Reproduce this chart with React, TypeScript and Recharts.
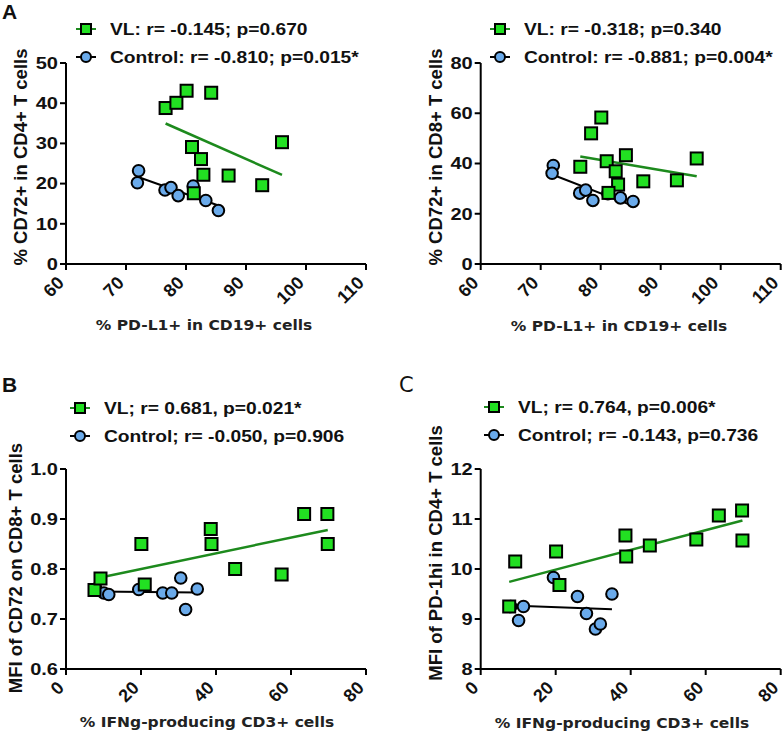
import React from "react";
import { ScatterChart, Scatter, XAxis, YAxis, Legend } from "recharts";

// Panel A (PD-L1+ in CD19+ vs CD72+ in CD4+/CD8+ T cells)
const VL_PDL1 = [76.6, 78.4, 80.1, 84.2, 81.0, 82.5, 82.9, 87.1, 96.0, 92.7, 81.3];
const VL_CD72_CD4 = [38.8, 40.1, 43.1, 42.6, 29.1, 26.1, 22.2, 22.0, 30.3, 19.6, 17.6];
const VL_CD72_CD8 = [38.7, 52.0, 58.3, 43.3, 40.9, 36.9, 31.6, 32.9, 42.0, 33.3, 28.3];
const CTRL_PDL1 = [72.1, 71.9, 76.5, 77.5, 78.7, 81.2, 83.3, 85.4];
const CTRL_CD72_CD4 = [23.2, 20.2, 18.4, 19.0, 17.0, 19.4, 15.8, 13.3];
const CTRL_CD72_CD8 = [39.2, 36.1, 28.2, 29.4, 25.3, 28.0, 26.3, 24.9];

// Panels B and C (IFNg-producing CD3+ cells vs MFI)
const VL_IFNG = [7.6, 9.2, 20.1, 21.0, 38.6, 38.8, 45.1, 57.5, 63.5, 69.7, 69.8];
const VL_MFI_CD72 = [0.758, 0.781, 0.85, 0.769, 0.88, 0.85, 0.8, 0.789, 0.91, 0.91, 0.85];
const VL_MFI_PD1 = [9.25, 10.15, 10.35, 9.68, 10.67, 10.25, 10.47, 10.59, 11.07, 11.17, 10.57];
const CTRL_IFNG = [8.0, 10.1, 11.4, 19.4, 25.8, 28.2, 30.6, 31.9, 35.0];
const CTRL_MFI_CD72 = [0.76, 0.752, 0.749, 0.759, 0.752, 0.752, 0.782, 0.719, 0.76];
const CTRL_MFI_PD1 = [9.25, 8.97, 9.25, 9.83, 9.45, 9.11, 8.8, 8.9, 9.5];

const PDL1_TICKS = [60, 70, 80, 90, 100, 110];
const IFNG_TICKS = [0, 20, 40, 60, 80];
const CD4_TICKS = [0, 10, 20, 30, 40, 50];
const CD8_TICKS = [0, 20, 40, 60, 80];
const MFI_CD72_TICKS = [0.6, 0.7, 0.8, 0.9, 1.0];
const MFI_PD1_TICKS = [8, 9, 10, 11, 12];

const GREEN = "#22e022";
const GREEN_LINE = "#1d8a1d";
const BLUE = "#6aaaea";
const BOLD = "'Liberation Sans', Arial, sans-serif";
const PLAIN = "'DejaVu Sans', Verdana, sans-serif";

const zip = (xs: number[], ys: number[]) => xs.map((x, i) => ({ x, y: ys[i] }));

// least squares line between min and max x of the group
function fitLine(xs: number[], ys: number[]) {
    const n = xs.length;
    const mx = xs.reduce((s, v) => s + v, 0) / n;
    const my = ys.reduce((s, v) => s + v, 0) / n;
    let sxy = 0;
    let sxx = 0;
    xs.forEach((x, i) => {
        sxy += (x - mx) * (ys[i] - my);
        sxx += (x - mx) * (x - mx);
    });
    const b = sxy / sxx;
    const x1 = Math.min(...xs);
    const x2 = Math.max(...xs);
    return [
        { x: x1, y: my + b * (x1 - mx) },
        { x: x2, y: my + b * (x2 - mx) },
    ];
}

const SquareDot = (props: any) => {
    const { cx, cy } = props;
    if (cx == null || cy == null) return <g />;
    return <rect x={cx - 6} y={cy - 6} width={12} height={12} fill={GREEN} stroke="#000" strokeWidth={2} />;
};

const CircleDot = (props: any) => {
    const { cx, cy } = props;
    if (cx == null || cy == null) return <g />;
    return <circle cx={cx} cy={cy} r={5.8} fill={BLUE} stroke="#000" strokeWidth={2} />;
};

const NoDot = () => <g />;

const YTick = (props: any) => {
    const { x, y, payload, decimals } = props;
    return (
        <text
            transform={`translate(${x},${y}) scale(1.25,1)`}
            textAnchor="end"
            dy="0.36em"
            fontSize={16}
            fontWeight="bold"
            fontFamily={BOLD}
            fill="#111"
        >
            {decimals ? Number(payload.value).toFixed(decimals) : payload.value}
        </text>
    );
};

const XTick = (props: any) => {
    const { x, y, payload } = props;
    return (
        <text
            transform={`translate(${x - 1},${y + 12}) rotate(-45)`}
            textAnchor="end"
            fontSize={18}
            fontWeight="bold"
            fontFamily={BOLD}
            fill="#111"
        >
            {payload.value}
        </text>
    );
};

function LegendBox({ items }: { items: string[] }) {
    return (
        <div style={{ fontFamily: BOLD, fontWeight: "bold", fontSize: 16.3, color: "#111" }}>
            {items.map((label, i) => (
                <div key={label} style={{ display: "flex", alignItems: "center", height: 28 }}>
                    <svg width={22} height={16} style={{ flexShrink: 0 }}>
                        <line x1={1} y1={8} x2={21} y2={8} stroke={i === 0 ? GREEN_LINE : "#000"} strokeWidth={2} />
                        {i === 0 ? (
                            <rect x={6} y={3} width={10} height={10} fill={GREEN} stroke="#000" strokeWidth={2} />
                        ) : (
                            <circle cx={11} cy={8} r={5} fill={BLUE} stroke="#000" strokeWidth={2} />
                        )}
                    </svg>
                    <span
                        style={{
                            marginLeft: 13,
                            whiteSpace: "nowrap",
                            display: "inline-block",
                            transform: "scaleX(1.18)",
                            transformOrigin: "left center",
                        }}
                    >
                        {label}
                    </span>
                </div>
            ))}
        </div>
    );
}

interface PanelProps {
    left: number;
    top: number;
    width: number;
    height: number;
    margin: { top: number; right: number; bottom: number; left: number };
    xDomain: [number, number];
    xTicks: number[];
    yDomain: [number, number];
    yTicks: number[];
    yDecimals?: number;
    vl: { x: number; y: number }[];
    ctrl: { x: number; y: number }[];
    vlFit: { x: number; y: number }[];
    ctrlFit: { x: number; y: number }[];
    legend: string[];
    legendPos: { left: number; top: number };
    letter: string;
    letterPos: { x: number; y: number; font: string; weight: string };
    yTitle: string;
    yTitlePos: { x: number; y: number };
    xTitle: string;
    xTitlePos: { x: number; y: number };
}

function Panel(p: PanelProps) {
    return (
        <div style={{ position: "absolute", left: p.left, top: p.top, width: p.width, height: p.height }}>
            <ScatterChart width={p.width} height={p.height} margin={p.margin}>
                <XAxis
                    type="number"
                    dataKey="x"
                    domain={p.xDomain}
                    ticks={p.xTicks}
                    interval={0}
                    allowDataOverflow
                    height={40}
                    axisLine={{ stroke: "#000", strokeWidth: 2 }}
                    tickLine={{ stroke: "#000", strokeWidth: 2 }}
                    tickSize={6}
                    tick={<XTick />}
                    label={{
                        content: () => (
                            <text
                                transform={`translate(${p.xTitlePos.x},${p.xTitlePos.y}) scale(1.15,1)`}
                                textAnchor="middle"
                                fontSize={13.5}
                                fontWeight="bold"
                                fontFamily={PLAIN}
                                fill="#222"
                            >
                                {p.xTitle}
                            </text>
                        ),
                    }}
                />
                <YAxis
                    type="number"
                    dataKey="y"
                    domain={p.yDomain}
                    ticks={p.yTicks}
                    interval={0}
                    allowDataOverflow
                    width={58}
                    axisLine={{ stroke: "#000", strokeWidth: 2 }}
                    tickLine={{ stroke: "#000", strokeWidth: 2 }}
                    tickSize={6}
                    tick={<YTick decimals={p.yDecimals} />}
                    label={{
                        content: () => (
                            <text
                                transform={`translate(${p.yTitlePos.x},${p.yTitlePos.y}) rotate(-90)`}
                                textAnchor="middle"
                                fontSize={18.5}
                                fontWeight="bold"
                                fontFamily={BOLD}
                                fill="#111"
                            >
                                {p.yTitle}
                            </text>
                        ),
                    }}
                />
                <Legend
                    layout="vertical"
                    align="center"
                    verticalAlign="middle"
                    wrapperStyle={{ left: p.legendPos.left, top: p.legendPos.top, width: "auto", height: "auto" }}
                    content={() => <LegendBox items={p.legend} />}
                />
                <Scatter data={p.ctrlFit} line={{ stroke: "#000", strokeWidth: 2 }} shape={NoDot} legendType="none" isAnimationActive={false} />
                <Scatter data={p.vlFit} line={{ stroke: GREEN_LINE, strokeWidth: 2.5 }} shape={NoDot} legendType="none" isAnimationActive={false} />
                <Scatter name={p.legend[1]} data={p.ctrl} shape={CircleDot} isAnimationActive={false} />
                <Scatter name={p.legend[0]} data={p.vl} shape={SquareDot} isAnimationActive={false} />
            </ScatterChart>
            {p.letter && (
                <svg style={{ position: "absolute", left: 0, top: 0 }} width={40} height={30}>
                    <text
                        x={p.letterPos.x}
                        y={p.letterPos.y}
                        fontFamily={p.letterPos.font}
                        fontWeight={p.letterPos.weight}
                        fontSize={21}
                        fill="#111"
                    >
                        {p.letter}
                    </text>
                </svg>
            )}
        </div>
    );
}

export default function App() {
    const topMargin = { top: 63, bottom: 66 };
    const botMargin = { top: 99, bottom: 26 };
    return (
        <div style={{ position: "absolute", left: 0, top: 0, width: 783, height: 735, background: "#fff", overflow: "hidden" }}>
            <Panel
                left={0}
                top={0}
                width={392}
                height={370}
                margin={{ ...topMargin, left: 8, right: 26 }}
                xDomain={[60, 110]}
                xTicks={PDL1_TICKS}
                yDomain={[0, 50]}
                yTicks={CD4_TICKS}
                vl={zip(VL_PDL1, VL_CD72_CD4)}
                ctrl={zip(CTRL_PDL1, CTRL_CD72_CD4)}
                vlFit={fitLine(VL_PDL1, VL_CD72_CD4)}
                ctrlFit={fitLine(CTRL_PDL1, CTRL_CD72_CD4)}
                legend={["VL: r= -0.145; p=0.670", "Control: r= -0.810; p=0.015*"]}
                legendPos={{ left: 75, top: 15 }}
                letter="A"
                letterPos={{ x: 2, y: 19, font: BOLD, weight: "bold" }}
                yTitle="% CD72+ in CD4+ T cells"
                yTitlePos={{ x: 27, y: 157 }}
                xTitle="% PD-L1+ in CD19+ cells"
                xTitlePos={{ x: 204, y: 330 }}
            />
            <Panel
                left={392}
                top={0}
                width={391}
                height={370}
                margin={{ ...topMargin, left: 30.7, right: 2.3 }}
                xDomain={[60, 110]}
                xTicks={PDL1_TICKS}
                yDomain={[0, 80]}
                yTicks={CD8_TICKS}
                vl={zip(VL_PDL1, VL_CD72_CD8)}
                ctrl={zip(CTRL_PDL1, CTRL_CD72_CD8)}
                vlFit={fitLine(VL_PDL1, VL_CD72_CD8)}
                ctrlFit={fitLine(CTRL_PDL1, CTRL_CD72_CD8)}
                legend={["VL: r= -0.318; p=0.340", "Control: r= -0.881; p=0.004*"]}
                legendPos={{ left: 97, top: 15 }}
                letter=""
                letterPos={{ x: 0, y: 0, font: BOLD, weight: "bold" }}
                yTitle="% CD72+ in CD8+ T cells"
                yTitlePos={{ x: 50, y: 157 }}
                xTitle="% PD-L1+ in CD19+ cells"
                xTitlePos={{ x: 227, y: 331 }}
            />
            <Panel
                left={0}
                top={370}
                width={392}
                height={365}
                margin={{ ...botMargin, left: 8, right: 26 }}
                xDomain={[0, 80]}
                xTicks={IFNG_TICKS}
                yDomain={[0.6, 1.0]}
                yTicks={MFI_CD72_TICKS}
                yDecimals={1}
                vl={zip(VL_IFNG, VL_MFI_CD72)}
                ctrl={zip(CTRL_IFNG, CTRL_MFI_CD72)}
                vlFit={fitLine(VL_IFNG, VL_MFI_CD72)}
                ctrlFit={fitLine(CTRL_IFNG, CTRL_MFI_CD72)}
                legend={["VL; r= 0.681, p=0.021*", "Control; r= -0.050, p=0.906"]}
                legendPos={{ left: 69, top: 24 }}
                letter="B"
                letterPos={{ x: 2, y: 22, font: BOLD, weight: "bold" }}
                yTitle="MFI of CD72 on CD8+ T cells"
                yTitlePos={{ x: 22, y: 198 }}
                xTitle="% IFNg-producing CD3+ cells"
                xTitlePos={{ x: 207, y: 357 }}
            />
            <Panel
                left={392}
                top={370}
                width={391}
                height={365}
                margin={{ ...botMargin, left: 30.7, right: 2.3 }}
                xDomain={[0, 80]}
                xTicks={IFNG_TICKS}
                yDomain={[8, 12]}
                yTicks={MFI_PD1_TICKS}
                vl={zip(VL_IFNG, VL_MFI_PD1)}
                ctrl={zip(CTRL_IFNG, CTRL_MFI_PD1)}
                vlFit={fitLine(VL_IFNG, VL_MFI_PD1)}
                ctrlFit={fitLine(CTRL_IFNG, CTRL_MFI_PD1)}
                legend={["VL; r= 0.764, p=0.006*", "Control; r= -0.143, p=0.736"]}
                legendPos={{ left: 91, top: 23 }}
                letter="C"
                letterPos={{ x: 7, y: 22, font: PLAIN, weight: "normal" }}
                yTitle="MFI of PD-1hi in CD4+ T cells"
                yTitlePos={{ x: 50, y: 183 }}
                xTitle="% IFNg-producing CD3+ cells"
                xTitlePos={{ x: 230, y: 358 }}
            />
        </div>
    );
}
